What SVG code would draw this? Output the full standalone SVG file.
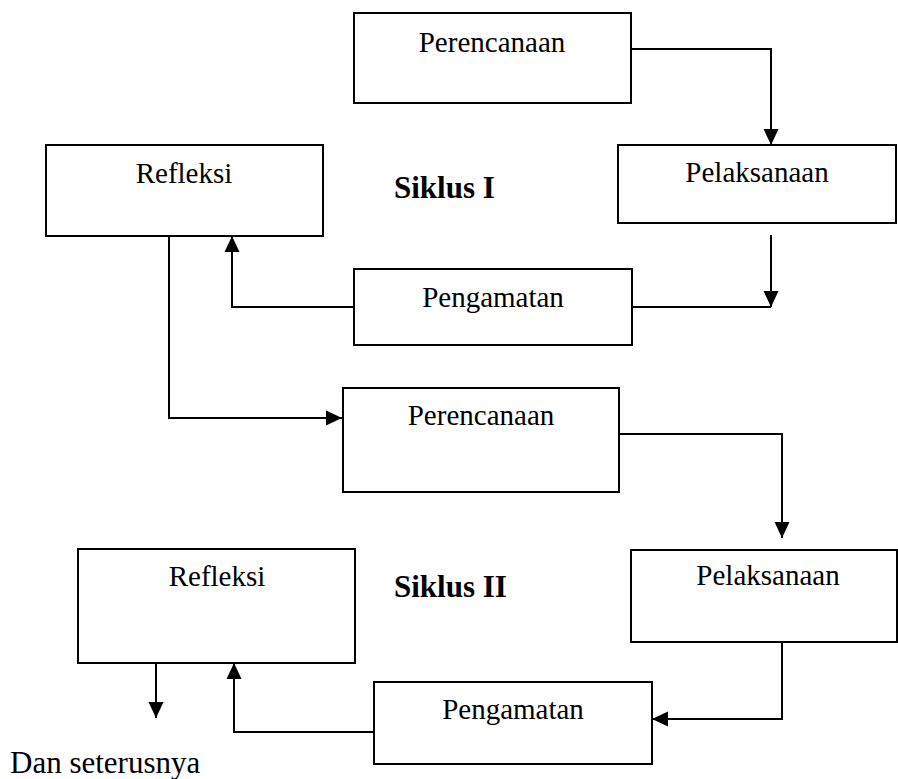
<svg xmlns="http://www.w3.org/2000/svg" width="898" height="779" viewBox="0 0 898 779">
<style>
.box{fill:#fff;stroke:#000;stroke-width:2}
.lbl{font-family:"Liberation Serif","Times New Roman",serif;font-size:29px;fill:#000;text-anchor:middle}
.title{font-family:"Liberation Serif","Times New Roman",serif;font-size:31px;font-weight:bold;fill:#000}
.plain{font-family:"Liberation Serif","Times New Roman",serif;font-size:31px;fill:#000}
.con{fill:none;stroke:#000;stroke-width:2}
</style>
<defs>
<marker id="arr" markerUnits="userSpaceOnUse" markerWidth="16" markerHeight="16" viewBox="0 0 16 16" refX="16" refY="8" orient="auto">
<path d="M0,0.5 L16,8 L0,15.5 z" fill="#000"/>
</marker>
</defs>
<rect width="898" height="779" fill="#fff"/>
<g id="connectors">
<path class="con" d="M631,49 H771 V145" marker-end="url(#arr)"/>
<path class="con" d="M771,235 V307" marker-end="url(#arr)"/>
<path class="con" d="M771,307 H632"/>
<path class="con" d="M354,307 H232 V236" marker-end="url(#arr)"/>
<path class="con" d="M169,236 V418 H342" marker-end="url(#arr)"/>
<path class="con" d="M619,434 H782 V538" marker-end="url(#arr)"/>
<path class="con" d="M782,642 V719 H652" marker-end="url(#arr)"/>
<path class="con" d="M374,732 H234 V663" marker-end="url(#arr)"/>
<path class="con" d="M156,663 V718" marker-end="url(#arr)"/>
</g>
<g id="perencanaan1"><rect class="box" x="354" y="13" width="277" height="90"/><text class="lbl" x="492" y="52">Perencanaan</text></g>
<g id="pelaksanaan1"><rect class="box" x="618" y="145" width="278" height="78"/><text class="lbl" x="757" y="182">Pelaksanaan</text></g>
<g id="pengamatan1"><rect class="box" x="354" y="269" width="278" height="76"/><text class="lbl" x="493" y="307">Pengamatan</text></g>
<g id="refleksi1"><rect class="box" x="46" y="145" width="277" height="91"/><text class="lbl" x="184" y="183">Refleksi</text></g>
<g id="siklus1"><text class="title" x="394" y="198">Siklus I</text></g>
<g id="perencanaan2"><rect class="box" x="343" y="388" width="276" height="104"/><text class="lbl" x="481" y="425">Perencanaan</text></g>
<g id="pelaksanaan2"><rect class="box" x="631" y="550" width="266" height="92"/><text class="lbl" x="768" y="585">Pelaksanaan</text></g>
<g id="pengamatan2"><rect class="box" x="374" y="682" width="278" height="82"/><text class="lbl" x="513" y="719">Pengamatan</text></g>
<g id="refleksi2"><rect class="box" x="78" y="549" width="277" height="114"/><text class="lbl" x="217" y="586">Refleksi</text></g>
<g id="siklus2"><text class="title" x="394" y="597">Siklus II</text></g>
<g id="dan-seterusnya"><text class="plain" x="10" y="773">Dan seterusnya</text></g>
</svg>
